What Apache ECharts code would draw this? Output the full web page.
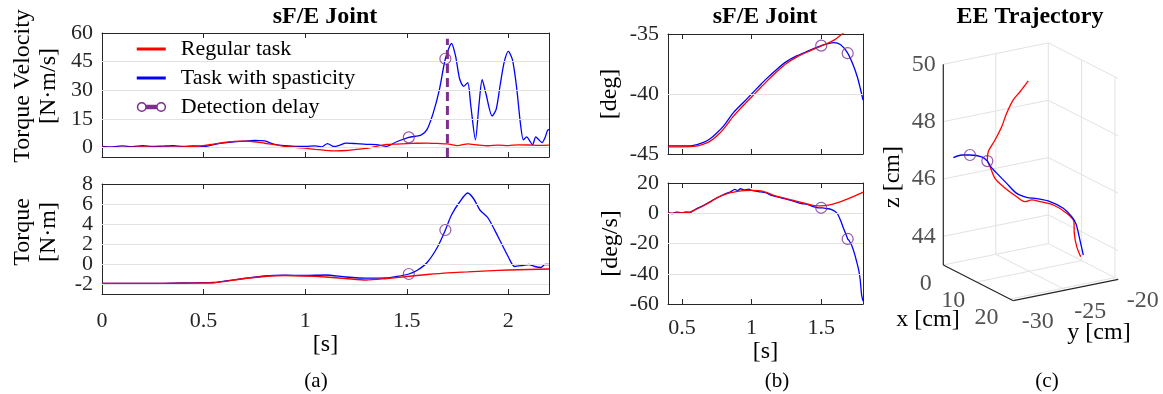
<!DOCTYPE html>
<html><head><meta charset="utf-8">
<script src="https://cdn.jsdelivr.net/npm/echarts@6/dist/echarts.min.js"></script>
<style>html,body{margin:0;padding:0;background:#fff}#c{width:1163px;height:394px}</style>
</head><body><div id="c"></div>
<script>
// ---------------- DATA ----------------
// (a) torque velocity [N·m/s]
const velTimeRegular = [0,0.1,0.2,0.3,0.4,0.5,0.55,0.6,0.65,0.7,0.75,0.8,0.85,0.9,0.95,1.0,1.05,1.1,1.15,1.2,1.25,1.3,1.35,1.4,1.45,1.5,1.55,1.6,1.65,1.7,1.75,1.8,1.85,1.9,1.95,2.0,2.05,2.1,2.15,2.2];
const velRegular = [0.2,0.0,0.3,0.1,0.3,1.0,1.8,2.6,3.2,3.3,3.0,2.2,1.5,0.6,0.1,-0.4,-1.0,-1.5,-1.8,-1.6,-1.0,-0.5,0.6,1.6,1.8,2.0,2.2,2.3,2.1,1.9,1.0,1.9,1.3,0.9,1.2,1.0,1.4,1.3,1.1,1.2];
const velTimeSpastic = [0,0.05,0.1,0.15,0.2,0.25,0.3,0.35,0.4,0.45,0.5,0.55,0.6,0.65,0.7,0.75,0.8,0.85,0.9,0.95,1.0,1.05,1.08,1.11,1.14,1.17,1.2,1.25,1.3,1.35,1.4,1.45,1.51,1.57,1.6,1.63,1.66,1.69,1.72,1.74,1.76,1.78,1.8,1.815,1.838,1.855,1.871,1.89,1.92,1.94,1.96,1.98,2.0,2.02,2.04,2.06,2.074,2.09,2.105,2.119,2.135,2.15,2.165,2.18,2.193,2.2];
const velSpastic = [0.6,0.3,0.8,0.4,0.9,0.5,0.7,0.9,0.6,0.8,0.5,1.5,2.4,3.0,3.3,3.7,3.4,1.6,0.9,0.6,0.5,0.8,0.3,2.0,0.5,1.2,2.3,2.0,1.6,1.5,0.6,3.0,5.3,6.5,9.5,18,30,46.5,54.5,48,36,32,34,22,4,22,35.5,28,16.5,20,33,45,50.4,46,32,12,4,5.5,3.5,1.4,5.5,4,2.6,5,9,9.5];
// (a) torque [N·m]
const torqueTimeRegular = [0,0.2,0.4,0.5,0.55,0.6,0.7,0.8,0.9,1.0,1.1,1.2,1.3,1.4,1.5,1.6,1.7,1.8,1.9,2.0,2.1,2.2];
const torqueRegular = [-1.95,-1.95,-1.92,-1.9,-1.88,-1.75,-1.45,-1.25,-1.15,-1.2,-1.3,-1.45,-1.6,-1.45,-1.25,-1.05,-0.88,-0.78,-0.68,-0.6,-0.55,-0.5];
const torqueTimeSpastic = [0,0.2,0.4,0.5,0.55,0.6,0.7,0.8,0.9,1.0,1.1,1.2,1.3,1.4,1.45,1.51,1.55,1.6,1.65,1.69,1.72,1.76,1.8,1.83,1.86,1.9,1.95,2.0,2.03,2.07,2.1,2.13,2.16,2.18,2.2];
const torqueSpastic = [-1.95,-1.95,-1.9,-1.87,-1.85,-1.72,-1.45,-1.2,-1.12,-1.15,-1.1,-1.3,-1.42,-1.4,-1.25,-1.0,-0.65,0.15,1.65,3.4,4.9,6.2,7.1,6.5,5.4,4.6,2.7,0.7,-0.25,-0.15,-0.05,-0.25,-0.35,-0.05,-0.05];
// (b) joint angle [deg]
const angleTimeRegular = [0.4,0.5,0.6,0.65,0.7,0.75,0.8,0.87,0.95,1.0,1.05,1.1,1.18,1.25,1.32,1.4,1.5,1.55,1.6,1.65,1.7,1.75,1.8];
const angleRegular = [-44.4,-44.4,-44.35,-44.2,-43.95,-43.5,-42.9,-41.85,-40.85,-40.25,-39.65,-39.05,-38.15,-37.45,-36.95,-36.5,-36.0,-35.75,-35.45,-35.0,-34.5,-33.9,-33.3];
const angleTimeSpastic = [0.4,0.5,0.575,0.65,0.7,0.75,0.8,0.87,0.95,1.0,1.05,1.1,1.18,1.25,1.32,1.4,1.5,1.55,1.59,1.64,1.69,1.73,1.76,1.78,1.8];
const angleSpastic = [-44.33,-44.33,-44.3,-44.05,-43.75,-43.25,-42.65,-41.55,-40.6,-40.0,-39.4,-38.8,-37.95,-37.3,-36.85,-36.45,-35.97,-35.8,-35.72,-35.9,-36.6,-37.6,-38.6,-39.5,-40.5];
// (b) joint angular velocity [deg/s]
const angVelTimeRegular = [0.4,0.45,0.5,0.55,0.6,0.65,0.7,0.75,0.8,0.85,0.9,0.95,1.0,1.05,1.1,1.15,1.2,1.25,1.3,1.35,1.4,1.45,1.5,1.55,1.6,1.65,1.7,1.75,1.8];
const angVelRegular = [0,0.1,0.3,0.5,2.5,4.8,7.3,10.2,12.2,13.6,14.5,15.0,15.1,14.9,14.0,12.2,10.8,9.6,8.5,7.3,6.1,5.1,4.9,5.3,6.5,8.0,9.8,11.8,14.0];
const angVelTimeSpastic = [0.4,0.43,0.46,0.5,0.53,0.56,0.6,0.65,0.7,0.75,0.8,0.85,0.88,0.9,0.92,0.95,0.98,1.0,1.05,1.1,1.15,1.2,1.25,1.3,1.35,1.4,1.45,1.48,1.51,1.54,1.57,1.6,1.62,1.64,1.66,1.68,1.69,1.7,1.72,1.74,1.76,1.77,1.78,1.79,1.8];
const angVelSpastic = [0.5,-0.3,0.8,0.2,0.9,0.6,2.8,4.9,7.5,10.1,12.4,14.2,15.8,14.9,16.2,15.4,15.9,15.2,14.3,13.6,11.6,10.5,9.3,8.0,6.6,5.8,4.2,3.6,3.6,3.1,2.6,1.2,-0.8,-5,-10,-14.5,-17,-18,-21.5,-27,-34,-38,-44,-54,-58];
// detection markers
const detectTimeA = [1.51, 1.69];
const detectVel = [5.3, 46.5];
const detectTorque = [-1.0, 3.4];
const detectTimeB = [1.50, 1.69];
const detectAngle = [-35.97, -36.6];
const detectAngVel = [3.6, -17];
const delayLineTime = [1.70, 1.70];
const delayLineVel = [-5, 57];
// tick labels
const timeTicksA = [0, 0.5, 1, 1.5, 2];
const velTicks = [0, 15, 30, 45, 60];
const torqueTicks = [-2, 0, 2, 4, 6, 8];
const timeTicksB = [0.5, 1, 1.5];
const angleTicks = [-45, -40, -35];
const angVelTicks = [-60, -40, -20, 0, 20];
// (c) end-effector trajectory [cm]
const eeXRegular = [13.0,12.4,11.8,11.2,10.6,10.0,9.4,8.8,8.2,7.6,6.8,6.0,5.3,4.8,4.5,4.2,4.0,3.8,3.6,3.4,3.2];
const eeYRegular = [-21.04,-21.23,-21.27,-21.11,-21.61,-22.70,-23.77,-24.37,-24.82,-25.42,-26.44,-26.98,-27.23,-27.33,-27.14,-26.41,-25.71,-25.17,-24.48,-23.77,-22.92];
const eeZRegular = [43.39,43.72,44.15,44.51,44.81,45.14,45.30,45.37,45.31,45.49,45.87,46.15,46.54,46.75,47.01,47.34,47.74,48.16,48.56,48.78,49.08];
const eeXSpastic = [13.0,12.3,11.6,10.9,10.3,9.6,8.9,8.2,7.5,6.8,6.1,5.4,4.8,4.1,3.4,2.7,2.0];
const eeYSpastic = [-20.79,-20.89,-21.04,-21.23,-21.84,-22.89,-23.93,-24.66,-25.39,-26.12,-26.85,-27.2,-27.33,-27.64,-28.54,-29.10,-29.68];
const eeZSpastic = [43.43,43.92,44.45,44.68,44.98,45.25,45.39,45.45,45.60,45.96,46.33,46.54,46.71,46.84,46.93,46.93,46.84];
const eeDetectIdx = [12, 14];
const x3Ticks = [0, 10, 20];
const y3Ticks = [-30, -25, -20];
const z3Ticks = [44, 46, 48, 50];

// ---------------- LAYOUT / STYLE ----------------
const FONT = 'Liberation Serif';
const AX = '#262626', GRIDC = '#e2e2e2', RED = '#ff0000', BLUE = '#0000ff', PUR = '#7e2f8e';
const zip = (a, b) => a.map((v, i) => [v, b[i]]);

const ranges = [
  {x: [0, 2.2], y: [-5, 60], xt: timeTicksA, yt: velTicks},
  {x: [0, 2.2], y: [-3, 8], xt: timeTicksA, yt: torqueTicks, splitLabels: true},
  {x: [0.4, 1.8], y: [-45, -35], xt: timeTicksB, yt: angleTicks},
  {x: [0.4, 1.8], y: [-60, 20], xt: timeTicksB, yt: angVelTicks}
];
const grids = [
  {left: 102, top: 33, width: 447, height: 124},
  {left: 102, top: 184, width: 447, height: 110},
  {left: 668, top: 34, width: 195, height: 120},
  {left: 668, top: 183, width: 195, height: 121}
];
const xNames = ['', '[s]', '', '[s]'];
const xNameGaps = [0, 36, 0, 26];
const xLabelShow = [false, true, false, true];
const xLabelMargin = [14, 16, 13, 13];
const yNames = ['Torque Velocity\n[N·m/s]', 'Torque\n[N·m]', '[deg]', '[deg/s]'];
const yNameGaps = [40, 40, 45, 44];
const yNameShift = [18, 14, 0, 0];

// 3D projection (screen px per cm)
const L3 = {x: [0, 21], y: [-30, -20], z: [43, 50]};
const P3 = {ex: [3.333, 1.70], ey: [10.5, -2.14], ez: [0, -28.67], origin: [943.3, 265]};
function proj(x, y, z) {
  const dx = x - L3.x[0], dy = y - L3.y[0], dz = z - L3.z[0];
  return [dx * P3.ex[0] + dy * P3.ey[0] + dz * P3.ez[0],
          -(dx * P3.ex[1] + dy * P3.ey[1] + dz * P3.ez[1])];
}
const corners = [];
L3.x.forEach(x => L3.y.forEach(y => L3.z.forEach(z => corners.push(proj(x, y, z)))));
const uMin = Math.min(...corners.map(c => c[0])), uMax = Math.max(...corners.map(c => c[0]));
const vMin = Math.min(...corners.map(c => c[1])), vMax = Math.max(...corners.map(c => c[1]));
grids.push({left: P3.origin[0] + uMin, top: P3.origin[1] - vMax, width: uMax - uMin, height: vMax - vMin});

const xAxes = [], yAxes = [], extraYAxes = [];
const labelCommon = {interval: 0, hideOverlap: false, showMinLabel: true, showMaxLabel: true,
  color: AX, fontFamily: FONT, fontSize: 22, formatter: v => String(v)};
ranges.forEach((r, g) => {
  ['bottom', 'top'].forEach((pos, k) => {
    xAxes.push({
      type: 'value', gridIndex: g, min: r.x[0], max: r.x[1], position: pos,
      axisLine: {show: true, onZero: false, lineStyle: {color: AX, width: 1}},
      axisTick: {show: true, inside: true, length: 5, interval: 0, customValues: r.xt, lineStyle: {color: AX, width: 1}},
      axisLabel: Object.assign({show: k === 0 && xLabelShow[g], customValues: r.xt, margin: xLabelMargin[g]}, labelCommon),
      splitLine: {show: false},
      name: k === 0 ? xNames[g] : '', nameLocation: 'middle', nameGap: xNameGaps[g],
      nameTextStyle: {fontFamily: FONT, fontSize: 24, color: '#000'}
    });
  });
  // tightly spaced labels are split over two coincident left axes so none gets hidden
  const mainLabels = r.splitLabels ? r.yt.filter((v, i) => i % 2 === 1) : r.yt;
  const altLabels = r.splitLabels ? r.yt.filter((v, i) => i % 2 === 0) : null;
  ['left', 'right'].forEach((pos, k) => {
    yAxes.push({
      type: 'value', gridIndex: g, min: r.y[0], max: r.y[1], position: pos,
      axisLine: {show: true, onZero: false, lineStyle: {color: AX, width: 1}},
      axisTick: {show: true, inside: true, length: 5, interval: 0, customValues: r.yt, lineStyle: {color: AX, width: 1}},
      axisLabel: Object.assign({show: k === 0, customValues: mainLabels, margin: 9}, labelCommon),
      splitLine: {show: false},
      name: k === 0 ? yNames[g] : '', nameLocation: 'middle', nameGap: yNameGaps[g], nameRotate: 90,
      nameTextStyle: {fontFamily: FONT, fontSize: 24, color: '#000', lineHeight: 26, align: 'center',
        padding: [0, 0, 0, yNameShift[g]]}
    });
  });
  if (altLabels) {
    extraYAxes.push({
      type: 'value', gridIndex: g, min: r.y[0], max: r.y[1], position: 'left',
      axisLine: {show: false}, axisTick: {show: false}, splitLine: {show: false},
      axisLabel: Object.assign({show: true, customValues: altLabels, margin: 9}, labelCommon)
    });
  }
});
xAxes.push({type: 'value', gridIndex: 4, min: uMin, max: uMax, show: false});
yAxes.push({type: 'value', gridIndex: 4, min: vMin, max: vMax, show: false});
extraYAxes.forEach(a => yAxes.push(a));

const series = [];
// gridlines
ranges.forEach((r, g) => {
  series.push({
    type: 'line', xAxisIndex: 2 * g, yAxisIndex: 2 * g, data: [], silent: true, z: 1, animation: false,
    markLine: {silent: true, symbol: ['none', 'none'], label: {show: false}, animation: false,
      lineStyle: {color: GRIDC, width: 1, type: 'solid'},
      data: r.yt.filter(v => v > r.y[0] && v < r.y[1]).map(v => ({yAxis: v}))}
  });
});
function ln(g, name, t, v, color, z) {
  return {type: 'line', name, xAxisIndex: 2 * g, yAxisIndex: 2 * g, data: zip(t, v), symbol: 'none',
    smooth: 0.25, lineStyle: {color, width: 1.3}, itemStyle: {color}, z, animation: false,
    emphasis: {disabled: true}};
}
function circ(xi, pts) {
  return {type: 'scatter', name: 'Detection delay', xAxisIndex: xi, yAxisIndex: xi, data: pts,
    symbol: 'circle', symbolSize: 11,
    itemStyle: {color: 'rgba(0,0,0,0)', borderColor: PUR, borderWidth: 1.2}, z: 8, animation: false,
    emphasis: {disabled: true}};
}
series.push(ln(0, 'Task with spasticity', velTimeSpastic, velSpastic, BLUE, 3));
series.push(ln(0, 'Regular task', velTimeRegular, velRegular, RED, 4));
series.push({type: 'line', name: 'Detection delay', xAxisIndex: 0, yAxisIndex: 0,
  data: zip(delayLineTime, delayLineVel), symbol: 'none',
  lineStyle: {color: PUR, width: 3, type: [9, 5]}, itemStyle: {color: PUR}, z: 5, animation: false});
series.push(circ(0, zip(detectTimeA, detectVel)));
series.push(ln(1, 'Task with spasticity', torqueTimeSpastic, torqueSpastic, BLUE, 3));
series.push(ln(1, 'Regular task', torqueTimeRegular, torqueRegular, RED, 4));
series.push(circ(2, zip(detectTimeA, detectTorque)));
series.push(ln(2, 'Task with spasticity', angleTimeSpastic, angleSpastic, BLUE, 3));
series.push(ln(2, 'Regular task', angleTimeRegular, angleRegular, RED, 4));
series.push(circ(4, zip(detectTimeB, detectAngle)));
series.push(ln(3, 'Task with spasticity', angVelTimeSpastic, angVelSpastic, BLUE, 3));
series.push(ln(3, 'Regular task', angVelTimeRegular, angVelRegular, RED, 4));
series.push(circ(6, zip(detectTimeB, detectAngVel)));

// ---- 3D panel ----
function seg(a, b, color, w) {
  series.push({type: 'line', xAxisIndex: 8, yAxisIndex: 8, data: [proj(...a), proj(...b)], symbol: 'none',
    lineStyle: {color, width: w}, silent: true, z: w > 1 ? 3 : 1, clip: false, animation: false});
}
const [X0, X1] = L3.x, [Y0, Y1] = L3.y, [Z0, Z1] = L3.z;
z3Ticks.forEach(z => { seg([X0, Y0, z], [X0, Y1, z], GRIDC, 1); seg([X0, Y1, z], [X1, Y1, z], GRIDC, 1); });
y3Ticks.filter(y => y > Y0).forEach(y => { seg([X0, y, Z0], [X0, y, Z1], GRIDC, 1); seg([X0, y, Z0], [X1, y, Z0], GRIDC, 1); });
x3Ticks.forEach(x => { if (x > X0) seg([x, Y1, Z0], [x, Y1, Z1], GRIDC, 1); seg([x, Y0, Z0], [x, Y1, Z0], GRIDC, 1); });
seg([X0, Y0, Z0], [X0, Y0, Z1], AX, 1.2);
seg([X0, Y0, Z0], [X1, Y0, Z0], AX, 1.2);
seg([X1, Y0, Z0], [X1, Y1, Z0], AX, 1.2);

function tickLabels(pts, names, label) {
  series.push({type: 'scatter', xAxisIndex: 8, yAxisIndex: 8, silent: true, symbolSize: 1,
    itemStyle: {color: 'rgba(0,0,0,0)'}, animation: false,
    data: pts.map((p, i) => ({value: p, name: names[i]})),
    label: Object.assign({show: true, formatter: '{b}', fontFamily: FONT, fontSize: 24, color: AX}, label)});
}
tickLabels(z3Ticks.map(z => proj(X0, Y0, z)), z3Ticks.map(String), {position: 'left', distance: 7});
tickLabels(x3Ticks.map(x => proj(x, Y0, Z0)), x3Ticks.map(String), {position: [-11, 19], align: 'right', verticalAlign: 'middle'});
tickLabels(y3Ticks.map(y => proj(X1, y, Z0)), y3Ticks.map(String), {position: [9, 22], align: 'left', verticalAlign: 'middle'});

series.push({type: 'line', name: 'Regular task', xAxisIndex: 8, yAxisIndex: 8,
  data: eeXRegular.map((x, i) => proj(x, eeYRegular[i], eeZRegular[i])), symbol: 'none', smooth: 0.3,
  lineStyle: {color: RED, width: 1.3}, itemStyle: {color: RED}, z: 4, clip: false, animation: false});
series.push({type: 'line', name: 'Task with spasticity', xAxisIndex: 8, yAxisIndex: 8,
  data: eeXSpastic.map((x, i) => proj(x, eeYSpastic[i], eeZSpastic[i])), symbol: 'none', smooth: 0.3,
  lineStyle: {color: BLUE, width: 1.3}, itemStyle: {color: BLUE}, z: 4, clip: false, animation: false});
series.push(circ(8, eeDetectIdx.map(i => proj(eeXSpastic[i], eeYSpastic[i], eeZSpastic[i]))));

// ---- text ----
function txt(x, y, text, size, bold, rot) {
  return {type: 'text', x, y, rotation: rot || 0, silent: true,
    style: {text, fontFamily: FONT, fontSize: size, fontWeight: bold ? 'bold' : 'normal', fill: '#000',
      align: 'center', verticalAlign: 'middle'}};
}
const graphic = [
  txt(325, 17, 'sF/E Joint', 24, true),
  txt(765, 17, 'sF/E Joint', 24, true),
  txt(1030, 17, 'EE Trajectory', 24, true),
  txt(316, 381, '(a)', 21, false),
  txt(777, 381, '(b)', 21, false),
  txt(1047, 381, '(c)', 21, false),
  txt(893, 177, 'z [cm]', 24, false, Math.PI / 2),
  txt(928, 320, 'x [cm]', 24, false),
  txt(1099, 333, 'y [cm]', 24, false)
];

const lineIcon = 'path://M0,0L0,0M39,10L39,10M0,3.5h29v3h-29z';
const delayIcon = 'path://M0,0L0,0M39,10L39,10M0.8,5a4.2,4.2 0 1,0 8.4,0a4.2,4.2 0 1,0 -8.4,0zM9.2,3.6H20.2M9.2,5H20.2M9.2,6.4H20.2M20.2,5a4.2,4.2 0 1,0 8.4,0a4.2,4.2 0 1,0 -8.4,0z';

const option = {
  animation: false,
  backgroundColor: '#fff',
  grid: grids,
  xAxis: xAxes,
  yAxis: yAxes,
  legend: {
    orient: 'vertical', left: 136, top: 38, padding: 0, itemGap: 7, itemWidth: 39, itemHeight: 10,
    selectedMode: false,
    textStyle: {fontFamily: FONT, fontSize: 22, color: '#000'},
    data: [
      {name: 'Regular task', icon: lineIcon, itemStyle: {color: RED, borderWidth: 0}},
      {name: 'Task with spasticity', icon: lineIcon, itemStyle: {color: BLUE, borderWidth: 0}},
      {name: 'Detection delay', icon: delayIcon, itemStyle: {color: 'rgba(0,0,0,0)', borderColor: PUR, borderWidth: 1.5}}
    ]
  },
  graphic,
  series
};
const chart = echarts.init(document.getElementById('c'));
chart.setOption(option);
</script></body></html>
